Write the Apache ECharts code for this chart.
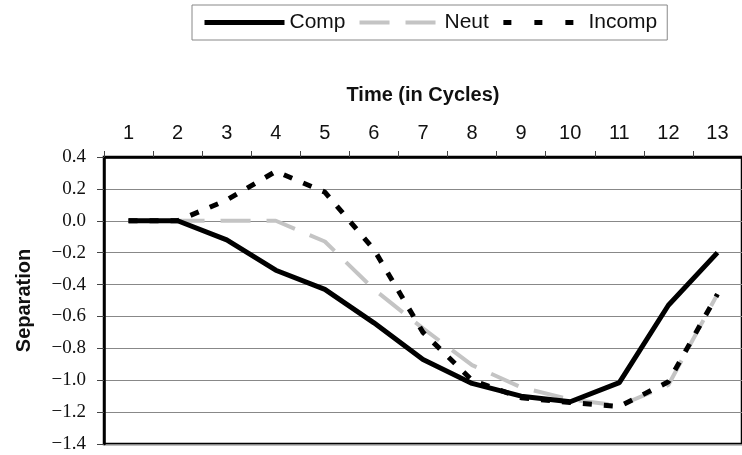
<!DOCTYPE html>
<html>
<head>
<meta charset="utf-8">
<script src="https://cdn.jsdelivr.net/npm/echarts@6/dist/echarts.min.js"></script>
<style>html,body{margin:0;padding:0;background:#fff}#c{width:742px;height:455px}</style>
</head>
<body>
<div id="c"></div>
<script>
var categories = ['1','2','3','4','5','6','7','8','9','10','11','12','13'];
var comp   = [0, 0, -0.12, -0.31, -0.43, -0.64, -0.87, -1.02, -1.10, -1.135, -1.015, -0.53, -0.20];
var neut   = [0, 0, 0, 0, -0.13, -0.43, -0.675, -0.905, -1.045, -1.12, -1.16, -1.03, -0.46];
var incomp = [0, 0, 0.13, 0.31, 0.18, -0.18, -0.70, -1.00, -1.11, -1.14, -1.165, -1.01, -0.46];
var yMin = -1.4, yMax = 0.4, yStep = 0.2;

var compStyle = {color: '#000', width: 5};
var neutStyle = {color: '#c4c4c4', width: 4, type: [30, 16]};
var incompStyle = {color: '#000', width: 5, type: [9, 12]};

var chart = echarts.init(document.getElementById('c'), null, {renderer: 'canvas'});
chart.setOption({
  animation: false,
  backgroundColor: '#fff',
  legend: {
    data: [
      {name: 'Comp', itemStyle: {opacity: 0}, lineStyle: compStyle},
      {name: 'Neut', itemStyle: {opacity: 0}, lineStyle: neutStyle},
      {name: 'Incomp', itemStyle: {opacity: 0}, lineStyle: {color: '#000', width: 5, type: [8, 23]}}
    ],
    left: 192, top: 5,
    padding: [7, 10],
    itemWidth: 80, itemHeight: 12, itemGap: 12,
    borderColor: '#888', borderWidth: 1,
    textStyle: {fontFamily: 'Liberation Sans, Arial', fontSize: 21, color: '#111'}
  },
  grid: {
    left: 104, top: 157, width: 642, height: 287,
    show: true, borderColor: '#000', borderWidth: 2.5, backgroundColor: 'transparent'
  },
  xAxis: {
    type: 'category', position: 'top', data: categories, boundaryGap: true,
    name: 'Time (in Cycles)', nameLocation: 'middle', nameGap: 52,
    nameTextStyle: {fontFamily: 'Liberation Sans, Arial', fontSize: 20, fontWeight: 'bold', color: '#111'},
    axisLine: {onZero: false, lineStyle: {color: '#000', width: 2.5}},
    axisTick: {show: true, inside: false, length: 6, lineStyle: {color: '#444', width: 1}},
    axisLabel: {margin: 14, fontFamily: 'Liberation Sans, Arial', fontSize: 20, color: '#111'},
    splitLine: {show: false}
  },
  yAxis: {
    type: 'value', min: yMin, max: yMax, interval: yStep,
    name: 'Separation', nameLocation: 'middle', nameGap: 70, nameRotate: 90,
    nameTextStyle: {fontFamily: 'Liberation Sans, Arial', fontSize: 20, fontWeight: 'bold', color: '#111'},
    axisLine: {show: true, onZero: false, lineStyle: {color: '#000', width: 2.5}},
    axisTick: {show: true, inside: false, length: 7, lineStyle: {color: '#444', width: 1}},
    axisLabel: {
      margin: 18, fontFamily: 'Liberation Serif', fontSize: 19, color: '#111',
      formatter: function (v) { var s = (Math.round(v * 10) / 10).toFixed(1); return s.replace('-', '\u2212'); }
    },
    splitLine: {show: true, lineStyle: {color: '#888', width: 1.2}}
  },
  series: [
    {name: 'Comp', type: 'line', data: comp, symbol: 'none', z: 5,
     lineStyle: compStyle, itemStyle: {color: '#000'}},
    {name: 'Neut', type: 'line', data: neut, symbol: 'none', z: 3,
     lineStyle: neutStyle, itemStyle: {color: '#c4c4c4'}},
    {name: 'Incomp', type: 'line', data: incomp, symbol: 'none', z: 4,
     lineStyle: incompStyle, itemStyle: {color: '#000'}}
  ]
});
</script>
</body>
</html>
